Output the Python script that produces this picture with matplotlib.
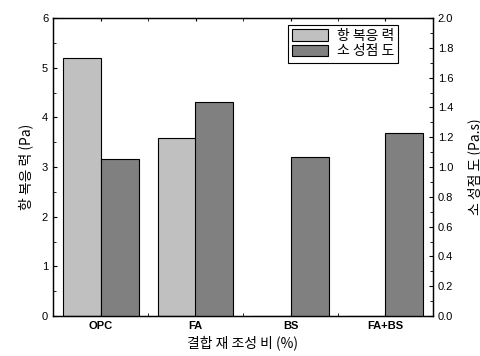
import numpy as np
import matplotlib.pyplot as plt

plt.rcParams['font.family'] = ['Liberation Sans', 'Noto Sans CJK KR', 'DejaVu Sans']

# data
categories = ['OPC', 'FA', 'BS', 'FA+BS']
yield_stress = [5.2, 3.58, 0, 0]          # Pa
plastic_visc = [1.057, 1.433, 1.067, 1.227]  # Pa.s

x = np.arange(len(categories))
w = 0.4
kr = ['Noto Sans CJK KR', 'DejaVu Sans']

fig = plt.figure(figsize=(4.81, 3.56), dpi=100)
ax = fig.add_axes([53/481, 40/356, 380/481, 298/356])
ax2 = ax.twinx()

b1 = ax.bar(x - w/2, yield_stress, w, color='#c0c0c0', edgecolor='black', linewidth=0.8)
b2 = ax2.bar(x + w/2, plastic_visc, w, color='#808080', edgecolor='black', linewidth=0.8)

ax.set_xlim(-0.5, 3.5)
ax.set_ylim(0, 6)
ax2.set_ylim(0, 2.0)
ax.set_yticks(np.arange(0, 7, 1))
ax.set_yticks(np.arange(0, 6.01, 0.5), minor=True)
ax2.set_yticks(np.arange(0, 2.01, 0.2))
ax2.set_yticks(np.arange(0, 2.01, 0.1), minor=True)
ax2.set_yticklabels([f'{v:.1f}' for v in np.arange(0, 2.01, 0.2)])
ax.set_xticks(x)
ax.set_xticks([0.5, 1.5, 2.5], minor=True)
ax.set_xticklabels(categories, fontweight='bold', fontsize=8)

for a in (ax, ax2):
    a.tick_params(direction='in', labelsize=8, length=3, width=0.8)
    a.tick_params(which='minor', direction='in', length=2, width=0.6)
    for s in a.spines.values():
        s.set_linewidth(0.9)
ax.tick_params(axis='x', which='both', top=True, length=2)

ax.set_ylabel('항 복응 력 (Pa)', fontsize=10, family=kr, fontweight='light', labelpad=6)
ax2.set_ylabel('소 성점 도 (Pa.s)', fontsize=10, family=kr, fontweight='light', rotation=90, labelpad=10)
ax.set_xlabel('결합 재 조성 비 (%)', fontsize=10, family=kr, fontweight='light', labelpad=3)

leg = ax.legend([b1, b2], ['항 복응 력', '소 성점 도'], loc='upper right', bbox_to_anchor=(0.908, 0.977),
                borderaxespad=0,
                prop={'family': 'Noto Sans CJK KR', 'size': 10, 'weight': 'light'}, fancybox=False,
                edgecolor='black', framealpha=1, handlelength=2.6, handleheight=0.9,
                borderpad=0.3, labelspacing=0.1, handletextpad=0.6)
leg.get_frame().set_linewidth(0.8)

fig.savefig('out.png', dpi=100)
